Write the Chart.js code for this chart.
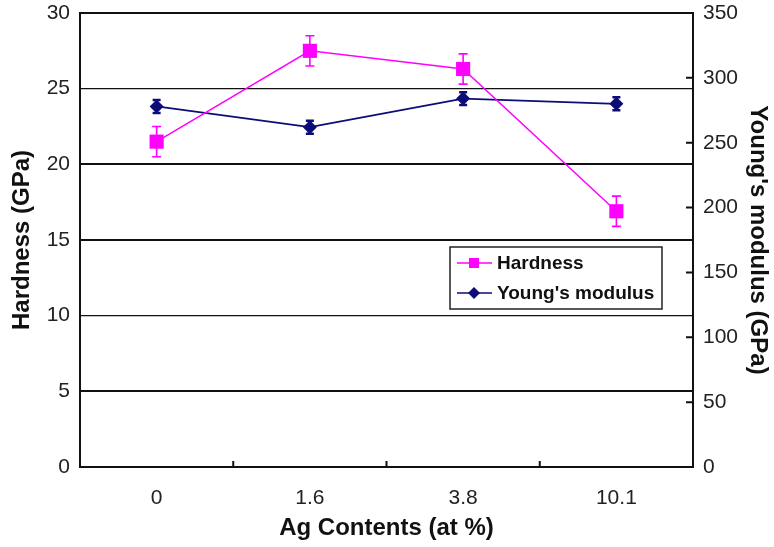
<!DOCTYPE html>
<html>
<head>
<meta charset="utf-8">
<script src="https://cdn.jsdelivr.net/npm/chart.js@4"></script>
<style>
  html, body { margin: 0; padding: 0; background: #fff; }
  #wrap { width: 774px; height: 547px; }
</style>
</head>
<body>
<div id="wrap"><canvas id="mainChart" width="774" height="547"></canvas></div>
<script>
// chart data
const categories = ['0', '1.6', '3.8', '10.1'];
const hardness = [21.5, 27.5, 26.3, 16.9];
const hardnessErr = [1.0, 1.0, 1.0, 1.0];
const modulus = [278, 262, 284, 280];
const modulusErr = [5, 5, 5, 5];
const hardnessTicks = [0, 5, 10, 15, 20, 25, 30];
const modulusTicks = [0, 50, 100, 150, 200, 250, 300, 350];

const tickFont = { family: 'Liberation Sans, Arial, sans-serif', size: 21 };
const titleFont = { family: 'Liberation Sans, Arial, sans-serif', size: 24, weight: 'bold' };

// error bars drawn from the datasets' own values
const errorBars = {
  id: 'errorBars',
  afterDatasetsDraw(chart) {
    const ctx = chart.ctx;
    chart.data.datasets.forEach((ds, i) => {
      const meta = chart.getDatasetMeta(i);
      const yScale = chart.scales[ds.yAxisID];
      ctx.save();
      ctx.strokeStyle = ds.borderColor;
      ctx.lineWidth = ds.errWidth;
      meta.data.forEach((pt, j) => {
        const top = yScale.getPixelForValue(ds.data[j] + ds.errors[j]);
        const bot = yScale.getPixelForValue(ds.data[j] - ds.errors[j]);
        const w = ds.capHalf;
        ctx.beginPath();
        ctx.moveTo(pt.x, top); ctx.lineTo(pt.x, bot);
        ctx.moveTo(pt.x - w, top); ctx.lineTo(pt.x + w, top);
        ctx.moveTo(pt.x - w, bot); ctx.lineTo(pt.x + w, bot);
        ctx.stroke();
      });
      ctx.restore();
    });
  }
};

// inward tick marks on the x axis (between categories) and right axis
const innerTicks = {
  id: 'innerTicks',
  afterDraw(chart) {
    const ctx = chart.ctx;
    const x = chart.scales.x, y1 = chart.scales.y1;
    const area = chart.chartArea;
    ctx.save();
    ctx.strokeStyle = '#111';
    ctx.lineWidth = 2;
    ctx.beginPath();
    for (let i = 1; i < categories.length; i++) {
      const px = (x.getPixelForTick(i - 1) + x.getPixelForTick(i)) / 2;
      ctx.moveTo(px, area.bottom); ctx.lineTo(px, area.bottom - 6);
    }
    modulusTicks.forEach(v => {
      const py = y1.getPixelForValue(v);
      ctx.moveTo(area.right, py); ctx.lineTo(area.right - 7, py);
    });
    ctx.stroke();
    ctx.restore();
  }
};

// boxed legend inside the plot
const boxLegend = {
  id: 'boxLegend',
  afterDraw(chart) {
    const ctx = chart.ctx;
    const bx = 450, by = 247, bw = 212, bh = 62;
    ctx.save();
    ctx.fillStyle = '#fff';
    ctx.fillRect(bx, by, bw, bh);
    ctx.strokeStyle = '#222';
    ctx.lineWidth = 1.5;
    ctx.strokeRect(bx, by, bw, bh);
    ctx.font = 'bold 19px Liberation Sans, Arial, sans-serif';
    ctx.textBaseline = 'middle';
    chart.data.datasets.forEach((ds, i) => {
      const cy = by + 16 + i * 30;
      ctx.strokeStyle = ds.borderColor;
      ctx.lineWidth = 1.5;
      ctx.beginPath();
      ctx.moveTo(bx + 7, cy); ctx.lineTo(bx + 42, cy);
      ctx.stroke();
      ctx.fillStyle = ds.borderColor;
      ctx.beginPath();
      if (ds.pointStyle === 'rect') {
        ctx.rect(bx + 19, cy - 5, 10, 10);
      } else {
        ctx.moveTo(bx + 24, cy - 6); ctx.lineTo(bx + 30, cy);
        ctx.lineTo(bx + 24, cy + 6); ctx.lineTo(bx + 18, cy);
      }
      ctx.fill();
      ctx.fillStyle = '#111';
      ctx.fillText(ds.label, bx + 47, cy + 1);
    });
    ctx.restore();
  }
};

function gridWidth(ctx) {
  const v = ctx.tick && ctx.tick.value;
  if (v === 25 || v === 10) return 1.2;
  return 2;
}

// fixed box sizes so the plot lands where the original sits
function fixWidth(w) {
  return s => { s.width = w; s.paddingTop = 0; s.paddingBottom = 0; };
}

document.addEventListener('DOMContentLoaded', function() {
  const ctx = document.getElementById('mainChart').getContext('2d');
  new Chart(ctx, {
    type: 'line',
    data: {
      labels: categories,
      datasets: [{
        label: 'Hardness',
        data: hardness,
        errors: hardnessErr,
        yAxisID: 'y',
        borderColor: '#ff00ff',
        backgroundColor: '#ff00ff',
        borderWidth: 1.5,
        pointStyle: 'rect',
        pointRadius: 10,
        pointBorderWidth: 0,
        errWidth: 1.6,
        capHalf: 4.5,
        tension: 0
      }, {
        label: "Young's modulus",
        data: modulus,
        errors: modulusErr,
        yAxisID: 'y1',
        borderColor: '#0c0c78',
        backgroundColor: '#0c0c78',
        borderWidth: 1.8,
        pointStyle: 'rectRot',
        pointRadius: 7,
        pointBorderWidth: 0,
        errWidth: 2.5,
        capHalf: 4,
        tension: 0
      }]
    },
    options: {
      responsive: false,
      animation: false,
      layout: { padding: { top: 13, left: 0, right: 0, bottom: 0 } },
      plugins: {
        legend: { display: false },
        tooltip: { enabled: false }
      },
      scales: {
        x: {
          offset: true,
          grid: { display: false, drawTicks: false },
          border: { display: true, color: '#111', width: 2 },
          ticks: { color: '#222', font: tickFont, padding: 19 },
          title: { display: true, text: 'Ag Contents (at %)', color: '#111', font: titleFont, padding: { top: 0, bottom: 4 } },
          afterFit: s => { s.height = 80; s.paddingLeft = 0; s.paddingRight = 0; }
        },
        y: {
          position: 'left',
          min: 0, max: 30,
          afterBuildTicks: s => { s.ticks = hardnessTicks.map(v => ({ value: v })); },
          grid: { color: '#111', lineWidth: gridWidth, drawTicks: false },
          border: { display: true, color: '#111', width: 2 },
          ticks: { color: '#222', font: tickFont, padding: 10 },
          title: { display: true, text: 'Hardness (GPa)', color: '#111', font: titleFont, padding: { top: 8, bottom: 0 } },
          afterFit: fixWidth(80)
        },
        y1: {
          position: 'right',
          min: 0, max: 350,
          afterBuildTicks: s => { s.ticks = modulusTicks.map(v => ({ value: v })); },
          grid: { display: false, drawTicks: false },
          border: { display: true, color: '#111', width: 2 },
          ticks: { color: '#222', font: tickFont, padding: 10 },
          title: { display: true, text: "Young's modulus (GPa)", color: '#111', font: titleFont, padding: { top: 2, bottom: 0 } },
          afterFit: fixWidth(81)
        }
      }
    },
    plugins: [errorBars, innerTicks, boxLegend]
  });
});
</script>
</body>
</html>
